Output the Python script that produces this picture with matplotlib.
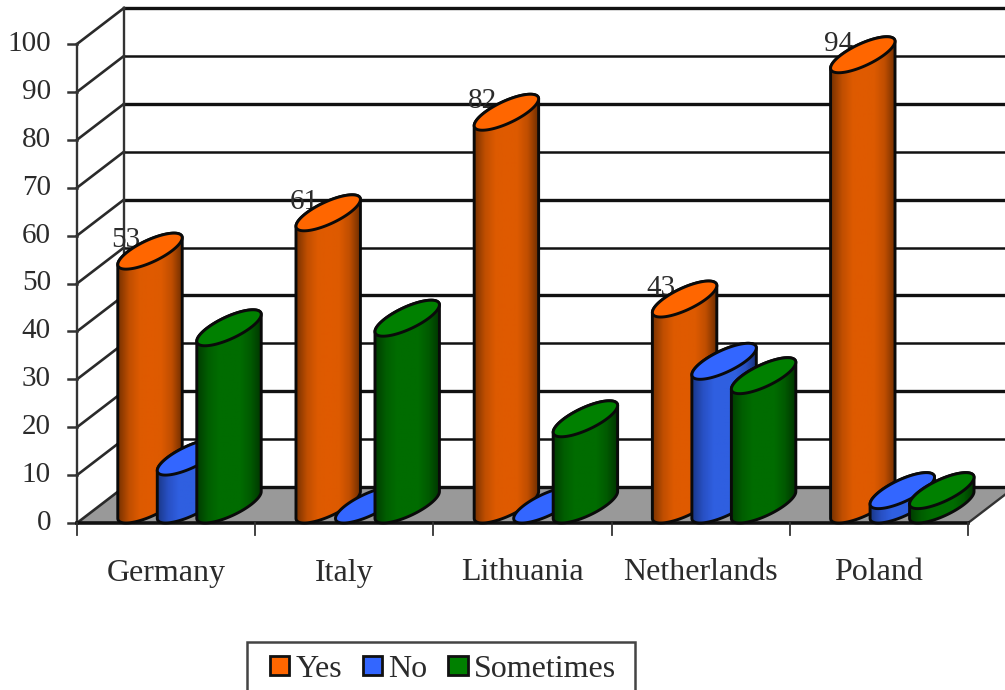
"""3D-style cylinder chart, drawn by hand on a flat axes."""

import numpy as np
import matplotlib
matplotlib.use("Agg")
import matplotlib.pyplot as plt
from matplotlib.colors import LinearSegmentedColormap
from matplotlib.patches import Patch, Polygon, Rectangle

countries = ["Germany", "Italy", "Lithuania", "Netherlands", "Poland"]
yes_vals = [53, 61, 82, 43, 94]
no_vals = [10, 0, 0, 30, 3]
sometimes_vals = [37, 39, 18, 27, 3]
y_ticks = [0, 10, 20, 30, 40, 50, 60, 70, 80, 90, 100]
series_names = ["Yes", "No", "Sometimes"]

# pixel scale of the data axes
PX_CAT = 178.2
PX_VAL = 4.79
FIG_W, FIG_H = 1005, 690
LEFT, BASE = 77, 523

# depth of the box and shape of the cylinders, in pixels
DEPTH_X, DEPTH_Y = 47, 36
CYL_W, CYL_DX, CYL_DY = 21.5, 24, 18
SLOTS = [73, 112.5, 152]

TOPS = ["#ff6600", "#3366ff", "#008000"]
SIDES = [
    ["#7a3300", "#c04e00", "#dd5a00", "#e05a00", "#dd5a00", "#c04e00", "#6e2d00"],
    ["#1a3888", "#2850c4", "#2f5fe0", "#2f5fe0", "#2f5fe0", "#2850c4", "#182f78"],
    ["#003e00", "#005e00", "#006c00", "#006c00", "#006c00", "#005a00", "#003600"],
]
TEXT_COL = "#2b2b2b"
SERIF = "Liberation Serif"

fig = plt.figure(figsize=(FIG_W / 100, FIG_H / 100), dpi=100)
ax = fig.add_axes([0, 0, 1, 1])
xlim = (-LEFT / PX_CAT, (FIG_W - LEFT) / PX_CAT)
ylim = ((BASE - FIG_H) / PX_VAL, BASE / PX_VAL)
ax.set_axis_off()

dx = DEPTH_X / PX_CAT
dy = DEPTH_Y / PX_VAL
n_cat = len(countries)

# floor
ax.add_patch(Polygon([(0, 0), (n_cat, 0), (n_cat + dx, dy), (dx, dy)],
                     closed=True, fc="#999999", ec="none", zorder=1))

# back wall grid and the slanted lines on the side wall
for i, v in enumerate(y_ticks):
    lw = 2.4 if i % 2 == 0 else 1.8
    ax.plot([dx, n_cat + dx], [v + dy, v + dy], color="#111111", lw=lw, zorder=2)
    ax.plot([0, dx], [v, v + dy], color="#2a2a2a", lw=1.9, zorder=2)
    ax.plot([-9 / PX_CAT, 0], [v, v], color="#333333", lw=1.8, zorder=2)
    ax.text(-26 / PX_CAT, v, str(v), ha="right", va="center", family=SERIF,
            fontsize=21, color=TEXT_COL, zorder=2)

ax.plot([0, 0], [0, 100], color="#333333", lw=1.7, zorder=2)
ax.plot([dx, dx], [dy, 100 + dy], color="#333333", lw=1.7, zorder=2)
ax.plot([n_cat, n_cat + dx], [0, dy], color="#333333", lw=1.7, zorder=2)

# front axis
ax.plot([0, n_cat], [0, 0], color="#111111", lw=2.6, zorder=2)
for i in range(n_cat + 1):
    ax.plot([i, i], [0, -12 / PX_VAL], color="#333333", lw=1.3, zorder=2)
for i, name in enumerate(countries):
    ax.text(i + 0.5, -50 / PX_VAL, name, ha="center", va="center", family=SERIF,
            fontsize=23, color=TEXT_COL, zorder=2)


def ellipse(cx, v, t):
    x = cx + (CYL_W * np.cos(t) + CYL_DX * np.sin(t)) / PX_CAT
    y = v + (CYL_DY + CYL_DY * np.sin(t)) / PX_VAL
    return np.column_stack([x, y])


def cylinder(cx, value, s, z):
    t0 = np.arctan2(CYL_DX, CYL_W)
    front = np.linspace(t0 + np.pi, t0 + 2 * np.pi, 60)
    back = np.linspace(t0, t0 + np.pi, 60)
    outline = np.vstack([ellipse(cx, 0, front), ellipse(cx, value, back)])
    half = np.hypot(CYL_W, CYL_DX) / PX_CAT

    if value > 0:
        cmap = LinearSegmentedColormap.from_list("side", SIDES[s])
        grad = np.linspace(0, 1, 64).reshape(1, -1)
        im = ax.imshow(grad, cmap=cmap, aspect="auto", interpolation="bilinear",
                       extent=(cx - half, cx + half, 0, value + 2 * CYL_DY / PX_VAL),
                       zorder=z)
        body = Polygon(outline, closed=True, fc="none", ec="#0a0a0a", lw=2.1,
                       zorder=z + 0.1)
        ax.add_patch(body)
        im.set_clip_path(body)

    tt = np.linspace(0, 2 * np.pi, 120)
    ax.add_patch(Polygon(ellipse(cx, value, tt), closed=True, fc=TOPS[s],
                         ec="#0a0a0a", lw=2.1, zorder=z + 0.2))


# value labels sit behind the cylinder tops
for i, v in enumerate(yes_vals):
    ax.text(i + (SLOTS[0] - 24) / PX_CAT, v + (CYL_DY + 11) / PX_VAL, str(v),
            ha="center", va="center", family=SERIF, fontsize=21,
            color=TEXT_COL, zorder=3)

z = 4
for i in range(n_cat):
    for s, vals in enumerate([yes_vals, no_vals, sometimes_vals]):
        cylinder(i + SLOTS[s] / PX_CAT, vals[i], s, z)
        z += 1

# legend box runs off the bottom of the figure
ax.add_patch(Rectangle((247 / PX_CAT + xlim[0], ylim[0] - 5), 388 / PX_CAT,
                       (FIG_H - 642) / PX_VAL + 5, fc="white", ec="#444444",
                       lw=1.8, zorder=100))
handles = [Patch(fc=c, ec="#111111", lw=2) for c in TOPS]
leg = ax.legend(handles, series_names, ncol=3, loc="upper left",
                bbox_to_anchor=(270 / FIG_W, 1 - 655 / FIG_H), borderaxespad=0,
                prop={"family": SERIF, "size": 23}, labelcolor=TEXT_COL,
                handlelength=0.6, handleheight=0.55, handletextpad=0.2,
                columnspacing=0.65, borderpad=0, frameon=False)
leg.set_zorder(200)

ax.set_xlim(*xlim)
ax.set_ylim(*ylim)
fig.savefig("out.png", dpi=100)
